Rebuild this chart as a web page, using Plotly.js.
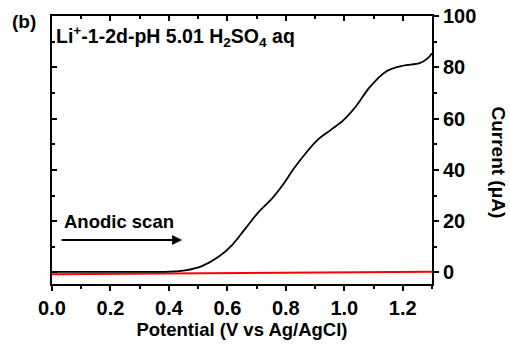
<!DOCTYPE html>
<html>
<head>
<meta charset="utf-8">
<script src="https://cdn.plot.ly/plotly-3.0.1.min.js"></script>
<style>html,body{margin:0;padding:0;background:#fff;}#chart{width:510px;height:345px;}</style>
</head>
<body>
<div id="chart"></div>
<script>
// Black curve: Li+-1-2d-pH 5.01 H2SO4 aq (anodic scan)
var potentialBlack = [0.0, 0.1, 0.2, 0.3, 0.38, 0.42, 0.456, 0.513, 0.571, 0.616, 0.662, 0.708, 0.754, 0.79, 0.828, 0.868, 0.908, 0.954, 0.999, 1.04, 1.085, 1.142, 1.2, 1.257, 1.285, 1.3];
var currentBlack   = [0.2, 0.2, 0.2, 0.2, 0.25, 0.4, 0.8, 2.5, 6.2, 10.7, 17.2, 23.7, 29.0, 34.2, 40.6, 46.5, 51.6, 55.6, 59.6, 64.8, 72.0, 78.3, 80.6, 81.6, 83.5, 85.5];
// Red curve: blank
var potentialRed = [0.0, 0.3, 0.6, 0.9, 1.2, 1.3];
var currentRed   = [-0.7, -0.5, -0.3, -0.1, 0.2, 0.3];

var xTicks = [0.0, 0.2, 0.4, 0.6, 0.8, 1.0, 1.2];
var yTicks = [0, 20, 40, 60, 80, 100];

var FONT = 'Liberation Sans, Arial, sans-serif';

var traces = [
  {x: potentialRed, y: currentRed, mode: 'lines', line: {color: '#ff0000', width: 2}, showlegend: false, hoverinfo: 'skip'},
  {x: potentialBlack, y: currentBlack, mode: 'lines', line: {color: '#000000', width: 1.8, shape: 'spline', smoothing: 1}, showlegend: false, hoverinfo: 'skip'},
  {x: [], y: [], xaxis: 'x2', yaxis: 'y2', showlegend: false, hoverinfo: 'skip'}
];

var axBase = {
  showgrid: false, zeroline: false, showline: true, linecolor: '#000', linewidth: 2,
  tickcolor: '#000', tickwidth: 2, ticklen: 5
};

var layout = {
  width: 510, height: 345,
  margin: {l: 52, r: 78, t: 16, b: 61},
  paper_bgcolor: '#fff', plot_bgcolor: '#fff',
  font: {family: FONT, color: '#000'},
  xaxis: Object.assign({}, axBase, {
    range: [0, 1.3], tickvals: xTicks, ticktext: xTicks.map(function(v){return v.toFixed(1);}),
    ticks: 'outside',
    minor: {dtick: 0.1, tick0: 0, ticks: 'outside', ticklen: 3, tickwidth: 2, tickcolor: '#000'},
    tickfont: {family: FONT, size: 20, weight: 'bold'},
    title: {text: '<b>Potential (V vs Ag/AgCl)</b>', font: {family: FONT, size: 18.5}, standoff: 4}
  }),
  xaxis2: Object.assign({}, axBase, {
    range: [0, 1.3], overlaying: 'x', side: 'top', anchor: 'y2',
    tickvals: xTicks, ticks: 'inside', showticklabels: false,
    minor: {dtick: 0.1, tick0: 0, ticks: 'inside', ticklen: 3, tickwidth: 2, tickcolor: '#000'}
  }),
  yaxis: Object.assign({}, axBase, {
    range: [-4.5, 100], side: 'right', tickvals: yTicks, ticks: 'outside',
    minor: {dtick: 10, tick0: 0, ticks: 'outside', ticklen: 3, tickwidth: 2, tickcolor: '#000'},
    tickfont: {family: FONT, size: 20, weight: 'bold'}
  }),
  yaxis2: Object.assign({}, axBase, {
    range: [-4.5, 100], overlaying: 'y', side: 'left', anchor: 'x2',
    tickvals: yTicks, ticks: 'inside', showticklabels: false,
    minor: {dtick: 10, tick0: 0, ticks: 'inside', ticklen: 3, tickwidth: 2, tickcolor: '#000'}
  }),
  annotations: [
    {text: '<b>(b)</b>', xref: 'paper', yref: 'paper', x: -0.037, y: 0.98, xanchor: 'right', yanchor: 'middle',
     showarrow: false, font: {family: FONT, size: 19}},
    {text: '<b>Li<sup>+</sup>-1-2d-pH 5.01 H<sub>2</sub>SO<sub>4</sub> aq</b>', xref: 'paper', yref: 'paper',
     x: 0.005, y: 0.925, xanchor: 'left', yanchor: 'middle', showarrow: false, font: {family: FONT, size: 19.5}},
    {text: '<b>Anodic scan</b>', xref: 'x', yref: 'y', x: 0.035, y: 20, xanchor: 'left', yanchor: 'middle',
     showarrow: false, font: {family: FONT, size: 18.5}},
    {text: '', xref: 'x', yref: 'y', x: 0.445, y: 12.7, ax: -122, ay: 0, showarrow: true,
     arrowhead: 2, arrowsize: 1, arrowwidth: 2, arrowcolor: '#000'},
    {text: '<b>Current (\u03bcA)</b>', xref: 'paper', yref: 'paper', x: 1.174, y: 0.453, textangle: 90,
     xanchor: 'center', yanchor: 'middle', showarrow: false, font: {family: FONT, size: 19}}
  ]
};

Plotly.newPlot('chart', traces, layout, {staticPlot: true, displayModeBar: false});
</script>
</body>
</html>
